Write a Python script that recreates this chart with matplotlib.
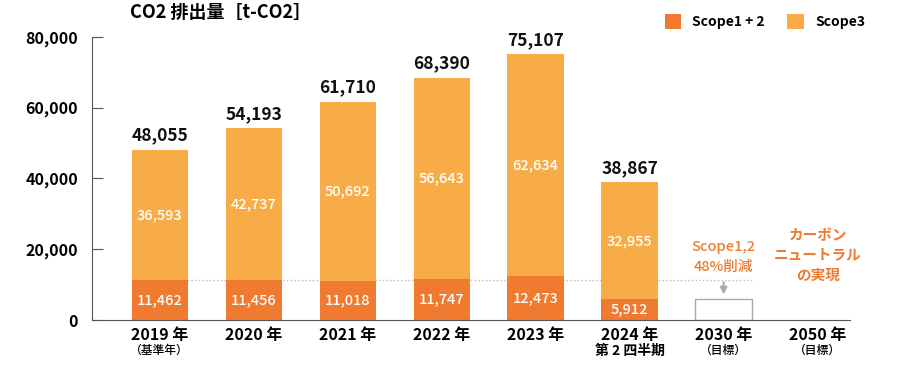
import numpy as np
import matplotlib
matplotlib.use("Agg")
import matplotlib.pyplot as plt
from matplotlib.patches import Rectangle

plt.rcParams['font.family'] = ['Noto Sans CJK JP', 'DejaVu Sans']
plt.rcParams['font.weight'] = 'bold'

years = ['2019 年', '2020 年', '2021 年', '2022 年', '2023 年', '2024 年', '2030 年', '2050 年']
sublabels = ['（基準年）', '', '', '', '', '第 2 四半期', '（目標）', '（目標）']
scope12 = [11462, 11456, 11018, 11747, 12473, 5912]
scope3 = [36593, 42737, 50692, 56643, 62634, 32955]
totals = [48055, 54193, 61710, 68390, 75107, 38867]
target_2030 = 5960

c12 = '#EF7A30'
c3 = '#F7AC48'
w = 0.6

fig = plt.figure(figsize=(9, 3.65), dpi=100)
ax = fig.add_axes([0.102, 0.123, 0.842, 0.776])

x = np.arange(len(scope12))
ax.bar(x, scope12, w, color=c12, label='Scope1 + 2')
ax.bar(x, scope3, w, bottom=scope12, color=c3, label='Scope3')

for i in x:
    ax.text(i, scope12[i] / 2, f'{scope12[i]:,}', ha='center', va='center', color='white', fontsize=10.5, fontweight='medium')
    ax.text(i, scope12[i] + scope3[i] / 2, f'{scope3[i]:,}', ha='center', va='center', color='white', fontsize=10.5, fontweight='medium')
    ax.text(i, totals[i] + 1500, f'{totals[i]:,}', ha='center', va='bottom', color='#111111', fontsize=12.5)

# 2030 target box
ax.add_patch(Rectangle((6 - w / 2, 0), w, target_2030, fill=False, edgecolor='#AAAAAA', lw=1))
ax.plot([-w / 2, 6 + w / 2], [scope12[0], scope12[0]], ls=':', color='#BBBBBB', lw=1, zorder=0)
ax.annotate('', xy=(6, target_2030 + 500), xytext=(6, target_2030 + 5500),
            arrowprops=dict(arrowstyle='-|>', color='#AAAAAA', lw=1.5, mutation_scale=10))
ax.text(6, 17800, 'Scope1,2\n48%削減', ha='center', va='center', color=c12, fontsize=10.5, fontweight='medium', linespacing=1.6)
ax.text(7, 18500, 'カーボン\nニュートラル\nの実現', ha='center', va='center', color=c12, fontsize=10.5, linespacing=1.3)

ax.set_xlim(-0.723, 7.34)
ax.set_ylim(0, 80000)
ax.set_yticks([0, 20000, 40000, 60000, 80000])
ax.set_yticklabels(['0', '20,000', '40,000', '60,000', '80,000'], fontsize=11.5)
ax.tick_params(axis='y', direction='in', length=8, color='#555555', pad=10)
ax.set_xticks(range(len(years)))
ax.set_xticklabels(years, fontsize=11.5)
ax.tick_params(axis='x', length=0, pad=5)
for i, s in enumerate(sublabels):
    if s:
        fs = 10 if i == 5 else 8.5
        ax.text(i, -0.085, s, transform=ax.get_xaxis_transform(), ha='center', va='top', fontsize=fs,
                fontweight='bold' if i == 5 else 'medium')

for sp in ['top', 'right']:
    ax.spines[sp].set_visible(False)
ax.spines['left'].set_color('#555555')
ax.spines['bottom'].set_color('#555555')

fig.text(0.145, 0.965, 'CO2 排出量［t-CO2］', ha='left', va='center', fontsize=13)
fig.legend(loc='center right', bbox_to_anchor=(0.975, 0.94), ncol=2, frameon=False, fontsize=10,
           handlelength=1.2, handleheight=1.2, columnspacing=1.6, handletextpad=0.8)

fig.savefig('out.png', dpi=100)
